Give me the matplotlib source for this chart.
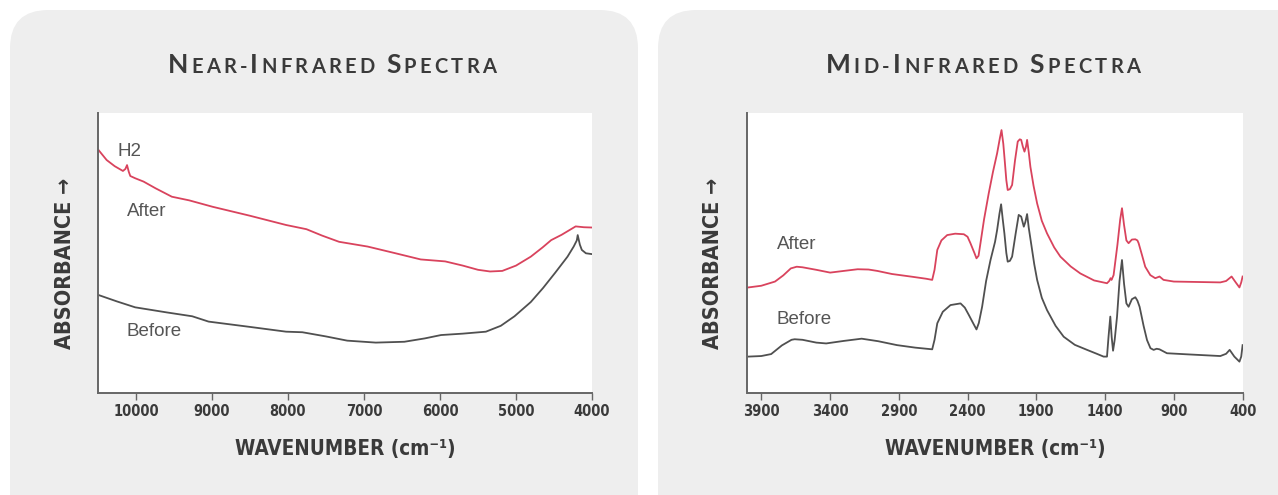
import matplotlib
matplotlib.use("Agg")
import matplotlib.pyplot as plt
from matplotlib import font_manager as fm
from matplotlib.patches import FancyBboxPatch
from matplotlib.offsetbox import TextArea, HPacker, AnnotationBbox

# ---- Near-infrared spectra (wavenumber, relative absorbance) ----
nir_after_wn = [10494, 10440, 10386, 10280, 10172, 10140, 10118, 10095, 10075, 10011, 9900,
                9742, 9528, 9300, 8991, 8500, 8025, 7757, 7550, 7328, 6952, 6600, 6254, 5932,
                5700, 5500, 5342, 5181, 5000, 4805, 4650, 4537, 4400, 4215, 4107, 4000]
nir_after_abs = [0.868, 0.850, 0.832, 0.810, 0.793, 0.800, 0.814, 0.790, 0.775, 0.767, 0.755,
                 0.731, 0.701, 0.688, 0.665, 0.633, 0.600, 0.585, 0.562, 0.540, 0.523, 0.500, 0.477, 0.470,
                 0.455, 0.440, 0.434, 0.436, 0.455, 0.487, 0.520, 0.546, 0.565, 0.595, 0.592, 0.591]
nir_before_wn = [10494, 10250, 10011, 9600, 9260, 9045, 8500, 8025, 7811, 7500, 7221, 6845,
                 6469, 6200, 5986, 5700, 5396, 5200, 5020, 4805, 4644, 4483, 4322, 4241, 4200,
                 4188, 4160, 4134, 4080, 4000]
nir_before_abs = [0.350, 0.327, 0.306, 0.288, 0.274, 0.255, 0.236, 0.219, 0.217, 0.202, 0.187, 0.180,
                  0.183, 0.195, 0.207, 0.212, 0.219, 0.240, 0.274, 0.325, 0.375, 0.430, 0.487, 0.523, 0.545,
                  0.564, 0.530, 0.511, 0.499, 0.496]

# ---- Mid-infrared spectra ----
mir_after_wn = [3994, 3900, 3800, 3740, 3685, 3642, 3600, 3500, 3399, 3300, 3199, 3120, 3056,
                2950, 2800, 2700, 2657, 2640, 2620, 2590, 2548, 2490, 2427, 2400, 2379, 2350,
                2335, 2320, 2306, 2280, 2246, 2215, 2185, 2165, 2153, 2140, 2130, 2118, 2108,
                2092, 2076, 2055, 2035, 2020, 2010, 1998, 1986, 1975, 1967, 1955, 1943, 1920,
                1894, 1860, 1822, 1770, 1725, 1650, 1580, 1480, 1386, 1370, 1360, 1353, 1338,
                1310, 1290, 1277, 1262, 1245, 1229, 1205, 1180, 1165, 1156, 1130, 1108, 1071,
                1035, 1004, 975, 900, 562, 520, 480, 450, 423, 410, 400]
mir_after_abs = [0.377, 0.383, 0.398, 0.420, 0.445, 0.451, 0.449, 0.440, 0.430, 0.436, 0.442, 0.441, 0.436,
                 0.425, 0.415, 0.408, 0.404, 0.440, 0.511, 0.545, 0.564, 0.569, 0.567, 0.558, 0.535, 0.500,
                 0.481, 0.490, 0.535, 0.620, 0.713, 0.790, 0.856, 0.910, 0.939, 0.890, 0.832, 0.760, 0.725,
                 0.728, 0.743, 0.830, 0.898, 0.906, 0.904, 0.880, 0.862, 0.880, 0.904, 0.860, 0.808, 0.740,
                 0.677, 0.615, 0.570, 0.520, 0.487, 0.452, 0.427, 0.402, 0.392, 0.400, 0.410, 0.404, 0.421,
                 0.530, 0.620, 0.660, 0.600, 0.545, 0.535, 0.548, 0.549, 0.545, 0.535, 0.490, 0.451, 0.421,
                 0.410, 0.416, 0.404, 0.398, 0.395, 0.400, 0.416, 0.395, 0.377, 0.395, 0.416]
mir_before_wn = [3994, 3900, 3828, 3750, 3680, 3657, 3600, 3500, 3428, 3300, 3170, 3050, 2913,
                 2780, 2657, 2640, 2620, 2580, 2524, 2451, 2420, 2391, 2360, 2335, 2318, 2294,
                 2265, 2233, 2200, 2185, 2168, 2156, 2144, 2132, 2118, 2108, 2092, 2076, 2050,
                 2028, 2010, 1991, 1980, 1967, 1955, 1938, 1915, 1894, 1860, 1822, 1760, 1701,
                 1620, 1531, 1460, 1411, 1386, 1375, 1362, 1352, 1342, 1330, 1313, 1295, 1277,
                 1262, 1245, 1229, 1205, 1180, 1165, 1149, 1120, 1095, 1070, 1047, 1025, 1004,
                 950, 800, 562, 520, 494, 460, 423, 410, 400]
mir_before_abs = [0.130, 0.132, 0.139, 0.170, 0.190, 0.192, 0.190, 0.180, 0.177, 0.186, 0.194, 0.185, 0.171,
                  0.162, 0.156, 0.190, 0.249, 0.290, 0.314, 0.320, 0.305, 0.279, 0.250, 0.227, 0.250, 0.308,
                  0.400, 0.475, 0.540, 0.582, 0.640, 0.674, 0.620, 0.570, 0.500, 0.469, 0.472, 0.487, 0.570,
                  0.636, 0.630, 0.594, 0.610, 0.639, 0.590, 0.535, 0.460, 0.404, 0.340, 0.296, 0.240, 0.201,
                  0.172, 0.154, 0.140, 0.130, 0.130, 0.200, 0.273, 0.200, 0.151, 0.190, 0.273, 0.400, 0.475,
                  0.390, 0.320, 0.308, 0.335, 0.342, 0.330, 0.308, 0.240, 0.189, 0.160, 0.154, 0.158, 0.156,
                  0.142, 0.138, 0.132, 0.140, 0.154, 0.130, 0.112, 0.130, 0.171]

nir_ticks = [10000, 9000, 8000, 7000, 6000, 5000, 4000]
mir_ticks = [3900, 3400, 2900, 2400, 1900, 1400, 900, 400]

RED = "#d9435d"
GREY = "#505050"
TEXT = "#3a3a3a"
CARD = "#eeeeee"

# pick the narrowest bold sans available for the condensed labels
_fonts = fm.fontManager.ttflist
if any(f.name == "Liberation Sans Narrow" for f in _fonts):
    NARROW = dict(family=["Liberation Sans Narrow", "DejaVu Sans"], fontweight="bold")
elif any(f.name == "DejaVu Sans" and f.stretch == "condensed" for f in _fonts):
    NARROW = dict(family=["DejaVu Sans"], fontweight="bold", fontstretch="condensed")
else:
    NARROW = dict(family=["Liberation Sans", "DejaVu Sans"], fontweight="bold")

W, H = 1278, 495
fig = plt.figure(figsize=(W / 100, H / 100), dpi=100)
fig.patch.set_facecolor("white")
renderer = fig.canvas.get_renderer()


def px_box(x0, y0, x1, y1):
    """Pixel box (top-left origin) -> figure fraction [left, bottom, width, height]."""
    return [x0 / W, 1 - y1 / H, (x1 - x0) / W, (y1 - y0) / H]


def fit_text(t, target_px, vertical=False):
    """Scale a text's font size so its extent matches the reference size."""
    bb = t.get_window_extent(renderer)
    cur = bb.height if vertical else bb.width
    t.set_fontsize(t.get_fontsize() * target_px / cur)


def add_card(x0, y0, x1, y1):
    l, b, w, h = px_box(x0, y0, x1, y1)
    card = FancyBboxPatch((l, b), w, h, boxstyle="round,pad=0,rounding_size=0.03",
                          transform=fig.transFigure, facecolor=CARD, edgecolor="none",
                          mutation_aspect=W / H, zorder=-10)
    fig.patches.append(card)


def small_caps_title(text, cx, cy, target_px, big=19, small=14.5):
    """Fake small caps: first letter of each word large, rest smaller capitals."""
    def build(sep):
        parts = []
        prev = " "
        for ch in text:
            size = big if (prev in " -" and ch.isalpha()) else small
            parts.append(TextArea(ch.upper(), textprops=dict(fontsize=size, color=TEXT,
                                                             family="Lato", fontweight="bold")))
            prev = ch
        box = HPacker(children=parts, align="baseline", pad=0, sep=sep)
        ab = AnnotationBbox(box, (cx / W, 1 - cy / H), xycoords="figure fraction",
                            frameon=False, box_alignment=(0.5, 0.5))
        fig.add_artist(ab)
        return ab

    ab = build(0)
    width = ab.get_window_extent(renderer).width
    ab.remove()
    sep_pt = (target_px - width) / (len(text) - 1) * 72 / fig.dpi
    build(max(sep_pt, 0))


def style_axes(ax, xlim, ticks):
    ax.set_facecolor("white")
    ax.set_xlim(*xlim)
    ax.set_ylim(0, 1)
    ax.set_xticks(ticks)
    ax.set_xticklabels([str(t) for t in ticks], fontsize=10.5, color=TEXT, **NARROW)
    ax.set_yticks([])
    for side in ["top", "right"]:
        ax.spines[side].set_visible(False)
    for side in ["left", "bottom"]:
        ax.spines[side].set_color("#666666")
        ax.spines[side].set_linewidth(1.4)
    ax.tick_params(axis="x", direction="out", length=5, width=1, color="#666666", pad=3)
    lab = ax.set_xlabel("WAVENUMBER (cm\u207b\u00b9)", fontsize=16, color=TEXT, labelpad=14, **NARROW)
    fit_text(lab, 222)


add_card(10, 10, 638, 560)
add_card(658, 10, 1320, 560)

label_style = dict(fontsize=13.5, color="#555555", va="center", ha="left",
                   family=["Liberation Sans", "DejaVu Sans"])

# ---- Near-infrared panel ----
ax1 = fig.add_axes(px_box(98, 113, 592, 393))
style_axes(ax1, (10500, 4000), nir_ticks)
ax1.plot(nir_after_wn, nir_after_abs, color=RED, lw=1.3)
ax1.plot(nir_before_wn, nir_before_abs, color=GREY, lw=1.3)
ax1.text(10237, 0.862, "H2", **label_style)
ax1.text(10119, 0.650, "After", **label_style)
ax1.text(10119, 0.218, "Before", **label_style)

# ---- Mid-infrared panel ----
ax2 = fig.add_axes(px_box(747.5, 113, 1242.6, 393))
style_axes(ax2, (4000, 400), mir_ticks)
ax2.plot(mir_after_wn, mir_after_abs, color=RED, lw=1.3)
ax2.plot(mir_before_wn, mir_before_abs, color=GREY, lw=1.3)
ax2.text(3787, 0.529, "After", **label_style)
ax2.text(3787, 0.264, "Before", **label_style)

for xpix in (65, 713):
    t = fig.text(xpix / W, 1 - 263 / H, "ABSORBANCE \u2192", rotation=90, fontsize=16,
                 color=TEXT, ha="center", va="center", **NARROW)
    fit_text(t, 172, vertical=True)

small_caps_title("Near-Infrared Spectra", 332, 65, 340)
small_caps_title("Mid-Infrared Spectra", 983, 65, 326)

fig.savefig("out.png", dpi=100)
